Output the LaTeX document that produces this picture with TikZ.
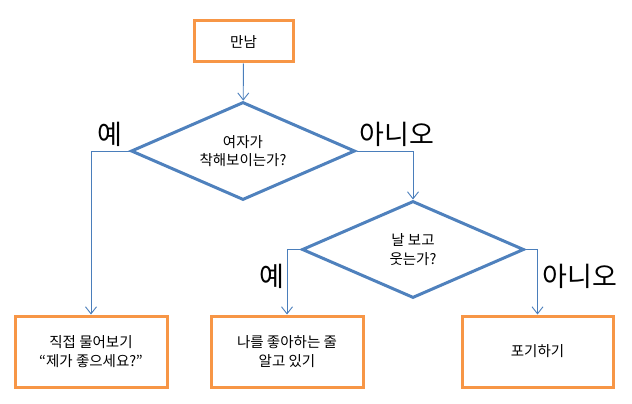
\documentclass[tikz,border=0pt]{standalone}
\usepackage{fontspec}
\setmainfont{Noto Sans CJK KR}
\usetikzlibrary{shapes.geometric,arrows.meta}
\definecolor{bleu}{HTML}{4F81BD}
\definecolor{bleutrait}{HTML}{4A7EBB}
\definecolor{orange}{HTML}{F79646}
\begin{document}
\begin{tikzpicture}[x=1pt, y=-1pt]
\tikzset{boite/.style={draw=orange, line width=3pt, rectangle, inner sep=0pt, align=center, font=\fontsize{14.5}{18.5}\selectfont},
losange/.style={draw=bleu, line width=3pt, diamond, aspect=2.3, inner sep=0pt, align=center, font=\fontsize{14.5}{18.5}\selectfont},
fleche/.style={draw=bleutrait, line width=0.9pt, -{Straight Barb[length=7pt, width=11pt, line width=0.9pt]}},
etiq/.style={font=\fontsize{27}{30}\selectfont}}
\useasboundingbox (0, 0) rectangle (632, 404);
\node[boite, minimum width=99pt, minimum height=41pt] (M) at (243.5, 41.5) {만남};
\node[losange, minimum width=224pt, minimum height=98pt] (D1) at (243, 151) {여자가\\착해보이는가?};
\node[losange, minimum width=222pt, minimum height=97pt] (D2) at (413, 249.5) {날 보고\\웃는가?};
\node[boite, minimum width=152pt, minimum height=71pt] (B1) at (91, 351.5) {직접 물어보기\\“제가 좋으세요?”};
\node[boite, minimum width=152pt, minimum height=71pt] (B2) at (287, 351.5) {나를 좋아하는 줄\\알고 있기};
\node[boite, minimum width=151pt, minimum height=71pt] (B3) at (537.5, 351.5) {포기하기};
\node[etiq] (L1) at (110, 134) {예};
\node[etiq] (L2) at (397, 134) {아니오};
\node[etiq] (L3) at (272, 276) {예};
\node[etiq] (L4) at (580, 276) {아니오};
\draw[fleche] (M) -- (D1);
\draw[fleche] (D1.west) -| (B1.north);
\draw[fleche] (D1.east) -| (D2.north);
\draw[fleche] (D2.west) -| (B2.north);
\draw[fleche] (D2.east) -| (B3.north);
\end{tikzpicture}
\end{document}
